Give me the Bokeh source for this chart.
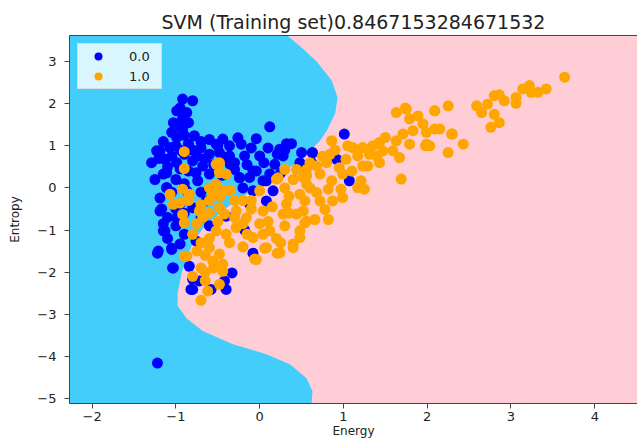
from bokeh.plotting import figure
from bokeh.models import Legend, LegendItem, LinearAxis, FixedTicker, Range1d
from bokeh.embed import file_html
from bokeh.resources import INLINE

# ---- data ----
title_text = "SVM (Training set)0.8467153284671532"
x_label = "Energy"
y_label = "Entropy"
x_ticks = [-2, -1, 0, 1, 2, 3, 4]
y_ticks = [-5, -4, -3, -2, -1, 0, 1, 2, 3]
x_lim = (-2.27, 4.51)
y_lim = (-5.12, 3.62)

# decision boundary (x of boundary for each y, bottom to top)
boundary_y = [-5.12, -4.83, -4.52, -4.19, -3.95, -3.71, -3.4, -3.1, -2.8, -2.5, -2.0,
              -1.6, -1.2, -0.9, -0.4, 0.0, 0.3, 0.64, 0.88, 1.12, 1.36, 1.76, 2.14,
              2.55, 3.0, 3.3, 3.62]
boundary_x = [0.62, 0.63, 0.56, 0.36, 0.08, -0.32, -0.68, -0.87, -0.98, -0.98, -0.93,
              -0.86, -0.77, -0.65, -0.35, -0.05, 0.2, 0.48, 0.6, 0.72, 0.8, 0.9, 0.93,
              0.86, 0.68, 0.52, 0.33]

class0_x = [-0.92, -0.80, -0.99, -0.87, -1.03, -0.92, -1.05, -0.92, -0.78, -0.99, -0.44, -0.52,
            -1.23, -1.07, -0.60, -0.48, -1.29, -1.13, -0.99, -0.80, -1.11, -0.76, -0.68,
            0.12, -0.26, -0.04, 0.32, 0.38, -0.36, -0.18, 0.0, 0.21, 0.63, -1.19, -0.08, -0.24,
            0.08, -1.19, -1.17, -1.11, -0.22, -0.36, -0.40, 0.34, 0.24, 0.28, 0.18, -0.30,
            -0.04, -0.12, 0.12, 0.50, -1.15, -1.11, -1.19, -1.13, -1.21, -1.05, -1.03, -0.84,
            -0.80, -0.80, -0.99, -0.80, -0.95, -0.76, -0.95, -0.60, -0.74, -0.87, -0.64, -0.70,
            -0.42, -0.58, -1.22, -1.15, -1.22, -1.05, -1.04, -0.82, -0.72, -0.40, -0.33, -0.18,
            -0.08, -0.40, -0.24, 0.04, -0.08, 0.08, -0.12, 0.16, 1.01, 0.63, 0.62, 0.48, 0.92,
            1.07, -1.0, -0.9, -1.05, -0.95, -1.0, -0.9, -1.05, -1.0, -0.9, -1.1, -0.85, -0.95,
            -0.85, -0.7, -0.65, -0.55, -0.3, -0.15, 0.05, -0.45, -0.2, 0.25, -0.7, -0.9, -0.6,
            -1.2, -1.25, -1.1, -0.95, -0.85, -0.8, -0.75, -1.0, -0.9, -1.15, -0.7, -1.0, -1.1,
            -1.15, -0.5, -0.1, 0.1, 0.3, -0.35, -0.6]
class0_y = [2.11, 2.07, 1.83, 1.79, 1.55, 1.64, 1.32, 1.40, 1.24, 1.20, 1.16, 1.04,
            0.88, 0.96, 0.80, 0.84, 0.60, 0.68, 0.60, 0.64, 0.36, 0.36, 0.52,
            1.45, 1.19, 1.17, 1.05, 1.05, 0.76, 0.76, 0.76, 0.80, 0.83, 0.88, 0.40, 0.24,
            0.17, -0.24, -0.50, 0.0, 1.04, 1.0, 0.72, 1.04, 0.92, 0.76, 0.56, 0.44,
            0.40, 0.25, 0.33, 0.84, 0.33, 0.01, -0.55, -1.02, -1.50, -1.46, -1.90, -1.86,
            -2.17, -2.41, -0.71, -0.47, -0.38, -1.26, -1.33, 0.33, 0.17, -0.07, -0.31, -0.71,
            -2.21, -2.41, -4.16, -1.02, -1.55, -1.43, -1.90, -2.41, -2.21, -2.41, -2.02, -1.0,
            -1.55, -0.67, 0.25, 0.17, -0.07, -0.31, -0.38, -0.07, 1.28, 0.84, 0.60, 0.60, 0.68,
            0.17, 1.0, 0.8, 0.75, 0.45, 0.2, 0.1, -0.1, -0.9, -1.1, -1.2, 1.05, 1.9,
            1.55, 0.95, 0.7, 0.55, 0.6, 0.55, 0.6, 0.3, 0.0, 0.35, -0.1, -0.6, -0.9,
            0.7, 0.2, 0.5, 0.9, 0.4, 0.9, 0.75, 1.45, 1.25, 1.1, 1.1, -0.5, -0.7,
            -0.85, 1.0, 0.95, 0.95, 0.9, 0.55, 1.15]

class1_x = [-0.9, -0.9, -0.52, -0.48, -0.48, -0.4, 0.3, 0.44, 0.56, 0.22,
            -1.07, -0.92, -0.84, -1.03, -0.95, -0.92, -0.90, -0.72, -0.68, -0.80, -0.87, -0.52,
            -0.56, -0.47, -0.6, -0.56, -0.44, -0.8, -0.48, -0.7, -0.52, -0.42,
            -0.9, -0.7, -0.62, -0.06, 0.06, 0.21, 0.4,
            -0.44, -0.48, -0.28, -0.16, 0.04, 0.0, 0.2, 0.32, 0.28, 0.44, 0.56, 0.48, 0.4, 0.24,
            0.08, -0.04, 0.04, 0.12, -0.4, -0.48, -0.44, -0.36, -0.28, -0.08, -0.2,
            1.63, 1.75, 1.89, 1.79, 2.09, 1.95, 1.99, 0.86, 1.11, 1.23, 1.43, 1.63, 1.71, 1.83,
            1.79, 1.59, 1.47, 1.67, 1.99, 1.31, 1.17, 1.03, 1.43, 0.84, 0.80, 0.68, 0.95, 1.23,
            1.29, 0.99, 0.56, 0.72, 0.52, 0.86, 1.21, 1.69, 0.97, 1.17, 1.25, 0.82, 0.68, 0.56,
            0.48, 0.99, 0.87, 0.72, 0.54, 0.52, 0.78, 0.82, 0.66, 0.54, 0.48,
            3.64, 3.14, 3.22, 3.32, 3.42, 3.24, 2.80, 2.86, 2.92, 3.06, 3.06, 2.59, 2.72, 2.65,
            2.80, 2.86, 2.76, 2.25, 2.09, 2.09, 2.15, 2.29, 2.43, 2.25, 2.03, 1.74, 2.30, 1.98,
            -0.7, -0.65, -0.6, -0.5, -0.6, -0.65, -0.3, -0.1, 0.1, 0.3, 0.2, -0.2, 0.3, 0.4,
            0.6, 0.75, 0.9, 1.05, 1.35, 1.5, 1.4, 1.1, 0.6, 0.35, -0.85, -0.75, -0.6, -0.35, -0.2,
            -0.3, -0.1, 0.15, 0.35, 0.0, -0.15, 0.25, -0.55, -0.65, -0.75, -0.7, -0.6]
class1_y = [0.86, 0.46, 0.56, 0.36, 0.6, 0.33, 0.44, 0.44, 0.29, 0.24,
            -0.15, -0.03, -0.15, -0.39, -0.36, -0.63, -0.83, -0.55, -0.7, -1.10, -1.62, 0.09,
            -0.15, -0.2, -1.42, -1.74, -1.98, -2.1, -2.29, -1.3, -1.02, -0.62,
            -1.62, -2.67, -2.45, -1.69, -1.43, -1.55, -1.33,
            -0.07, -0.47, -0.55, -0.71, -0.55, -0.07, 0.21, -0.38, -0.62, -0.62, -0.79, -1.18,
            -1.42, -1.54, -1.42, -1.7, -1.1, -1.02, -1.1, -1.57, -1.81, -1.3, -0.94, -1.18, -0.85,
            1.79, 1.87, 1.71, 1.64, 1.83, 1.52, 1.32, 1.12, 0.96, 0.96, 1.08, 1.12, 1.28, 1.36,
            1.04, 0.88, 0.88, 0.72, 1.04, 0.80, 0.76, 0.68, 0.60, 0.80, 0.60, 0.52, 0.48, 0.52,
            0.52, 0.33, 0.44, 0.33, 0.25, 0.17, 0.17, 0.21, -0.03, 0.01, -0.03, -0.03, -0.11, 0.09,
            -0.15, -0.23, -0.31, -0.31, -0.31, -0.55, -0.51, -0.75, -0.75, -0.83, -1.02,
            2.63, 2.35, 2.43, 2.27, 2.35, 2.27, 2.19, 2.21, 2.07, 2.15, 2.01, 1.95, 1.99, 1.79,
            1.75, 1.55, 1.44, 1.95, 1.83, 1.40, 1.40, 1.28, 1.04, 0.84, 1.0, 1.9, 1.28, 1.0,
            -1.9, -1.6, -1.2, -0.8, -0.6, -2.2, -0.3, -0.3, -0.8, -0.9, -1.2, -1.4, 0.0, 0.2,
            0.6, 0.75, 0.9, 1.0, 1.0, 1.2, 0.75, 0.4, 0.0, -0.2, -0.3, -0.85, 0.0, -0.05, -0.3,
            -0.7, -0.5, -0.45, -0.6, -0.85, -1.1, -1.3, -1.9, -2.0, -1.5, -0.4, -0.3]

labels = ["0.0", "1.0"]
region_colors = ["#42cdfb", "#fecdd5"]
point_colors = ["#0000ff", "#ffa500"]

# ---- figure ----
p = figure(width=637, height=441, output_backend="svg", toolbar_location=None,
           x_range=Range1d(*x_lim), y_range=Range1d(*y_lim),
           min_border_left=69, min_border_right=0, min_border_top=35, min_border_bottom=38,
           title=title_text)
p.background_fill_color = region_colors[0]
p.border_fill_color = "white"
p.outline_line_color = None
p.xgrid.visible = False
p.ygrid.visible = False

p.title.text_font = "DejaVu Sans"
p.title.text_font_size = "19px"
p.title.text_font_style = "normal"
p.title.text_color = "#222222"
p.title.align = "center"
p.title.standoff = 6

# pink region right of boundary
x_end = [x_lim[1]] * len(boundary_y)
p.harea(x1=boundary_x, x2=x_end, y=boundary_y, fill_color=region_colors[1])

rb = p.scatter(class0_x, class0_y, size=11, fill_color=point_colors[0], line_color=None)
ro = p.scatter(class1_x, class1_y, size=11, fill_color=point_colors[1], line_color=None)

def minus(v):
    return str(v).replace("-", "\u2212")

for ax, ticks in ((p.xaxis[0], x_ticks), (p.yaxis[0], y_ticks)):
    ax.ticker = FixedTicker(ticks=ticks)
    ax.major_label_overrides = {t: minus(t) for t in ticks}
    ax.minor_tick_line_color = None
    ax.major_tick_in = 0
    ax.major_tick_out = 5
    ax.major_label_text_font = "DejaVu Sans"
    ax.major_label_text_font_size = "13px"
    ax.major_label_text_color = "#222222"
    ax.axis_line_color = "#444444"
    ax.major_tick_line_color = "#444444"
    ax.axis_label_text_font = "DejaVu Sans"
    ax.axis_label_text_font_size = "12px"
    ax.axis_label_text_font_style = "normal"
    ax.axis_label_text_color = "#222222"

p.xaxis.axis_label = x_label
p.yaxis.axis_label = y_label
p.xaxis.major_label_standoff = 3
p.xaxis.axis_label_standoff = 0
p.yaxis.major_label_standoff = 8
p.yaxis.axis_label_standoff = 12

top = LinearAxis(ticker=FixedTicker(ticks=[]), axis_line_color="#444444",
                 major_tick_line_color=None, minor_tick_line_color=None,
                 major_label_text_font_size="0px")
p.add_layout(top, "above")

legend = Legend(items=[LegendItem(label=labels[0], renderers=[rb]),
                       LegendItem(label=labels[1], renderers=[ro])],
                location="top_left")
legend.margin = 8
legend.padding = 2
legend.spacing = 0
legend.glyph_width = 36
legend.glyph_height = 20
legend.label_height = 20
legend.label_width = 30
legend.label_standoff = 13
legend.label_text_font = "DejaVu Sans"
legend.label_text_font_size = "13px"
legend.label_text_color = "#222222"
legend.background_fill_color = "white"
legend.background_fill_alpha = 0.8
legend.border_line_color = "#cccccc"
p.add_layout(legend)

open("out.html", "w").write(file_html(p, INLINE))
